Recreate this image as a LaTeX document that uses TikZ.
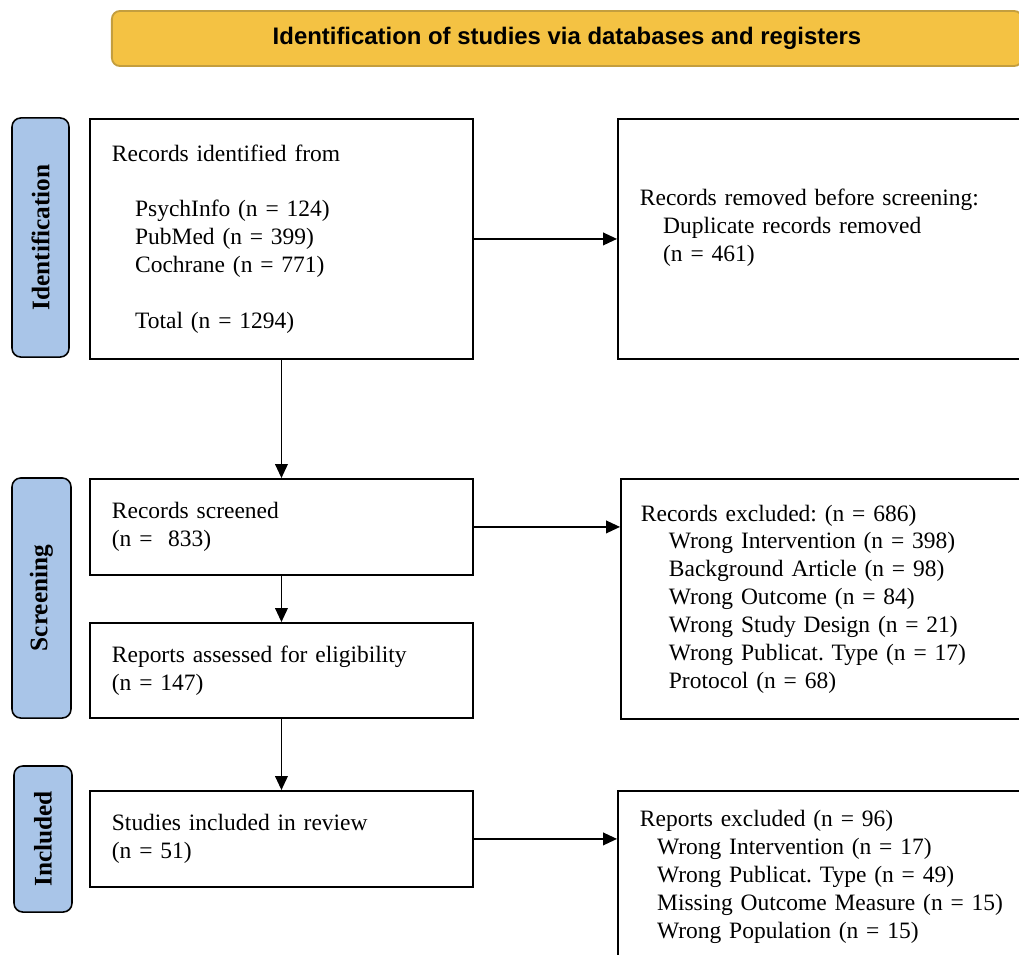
\documentclass[tikz,border=0pt]{standalone}
\usepackage{fontspec}
\setmainfont{Liberation Serif}
\newfontfamily\bannerfont{Liberation Sans}
\usetikzlibrary{arrows.meta}
\definecolor{bannerGold}{RGB}{244,194,67}
\definecolor{bannerEdge}{RGB}{196,158,62}
\definecolor{phaseBlue}{RGB}{169,197,232}
\frenchspacing

\begin{document}
\begin{tikzpicture}[x=0.025cm, y=-0.025cm,
    flowbox/.style={draw, line width=1.3pt, anchor=north west, align=left, inner xsep=0.55cm, font=\fontsize{16.7}{19.8}\selectfont},
    phase/.style={draw, line width=1.1pt, fill=phaseBlue, rounded corners=0.22cm, rotate=90, inner sep=0pt, font=\fontsize{18}{20}\selectfont\bfseries},
    flow/.style={line width=0.9pt, -{Triangle[length=0.35cm,width=0.32cm]}}]
    \useasboundingbox (0,0) rectangle (1019,954);
    \clip (0,0) rectangle (1019,954);

    \node[draw=bannerEdge, line width=1.3pt, fill=bannerGold, rounded corners=0.2cm, minimum width=22.75cm, minimum height=1.375cm, font=\bannerfont\bfseries\fontsize{17}{20}\selectfont] (title) at (567,38.5) {Identification of studies via databases and registers};

    \node[phase, minimum width=5.975cm, minimum height=1.425cm] (idphase) at (40.5,237.5) {Identification};
    \node[phase, minimum width=6cm, minimum height=1.475cm] (scphase) at (41.5,598) {Screening};
    \node[phase, minimum width=3.65cm, minimum height=1.45cm] (inphase) at (43,839) {Included};

    \node[flowbox, text width=8.475cm, minimum height=6cm] (ident) at (89,118) {Records identified from\\[19.8pt]
        \hspace*{0.58cm}PsychInfo (n = 124)\\
        \hspace*{0.58cm}PubMed (n = 399)\\
        \hspace*{0.58cm}Cochrane (n = 771)\\[19.8pt]
        \hspace*{0.58cm}Total (n = 1294)};
    \node[flowbox, text width=9.975cm, minimum height=6cm] (removed) at (617,118) {Records removed before screening:\\
        \hspace*{0.58cm}Duplicate records removed\\
        \hspace*{0.58cm}(n = 461)\\ \mbox{}};

    \node[flowbox, text width=8.475cm, minimum height=2.4cm] (screened) at (89,478) {Records screened\\ (n =\ \ 833)};
    \node[flowbox, text width=9.9cm, minimum height=6cm, inner xsep=0.5cm] (excluded) at (620,478) {Records excluded: (n = 686)\\
        \hspace*{0.7cm}Wrong Intervention (n = 398)\\
        \hspace*{0.7cm}Background Article (n = 98)\\
        \hspace*{0.7cm}Wrong Outcome (n = 84)\\
        \hspace*{0.7cm}Wrong Study Design (n = 21)\\
        \hspace*{0.7cm}Wrong Publicat. Type (n = 17)\\
        \hspace*{0.7cm}Protocol (n = 68)};
    \node[flowbox, text width=8.475cm, minimum height=2.375cm] (assessed) at (89,622) {Reports assessed for eligibility\\ (n = 147)};

    \node[flowbox, text width=8.475cm, minimum height=2.4cm] (included) at (89,790) {Studies included in review\\ (n = 51)};
    \node[flowbox, text width=9.975cm, minimum height=4.3cm] (repexcl) at (617,790) {Reports excluded (n = 96)\\
        \hspace*{0.43cm}Wrong Intervention (n = 17)\\
        \hspace*{0.43cm}Wrong Publicat. Type (n = 49)\\
        \hspace*{0.43cm}Missing Outcome Measure (n = 15)\\
        \hspace*{0.43cm}Wrong Population (n = 15)};

    \draw[flow] (ident.east) -- (removed.west);
    \draw[flow] (ident.south) -- (screened.north);
    \draw[flow] (screened.east) -- (screened.east -| excluded.west);
    \draw[flow] (screened.south) -- (assessed.north);
    \draw[flow] (assessed.south) -- (included.north);
    \draw[flow] (included.east) -- (included.east -| repexcl.west);
\end{tikzpicture}
\end{document}
